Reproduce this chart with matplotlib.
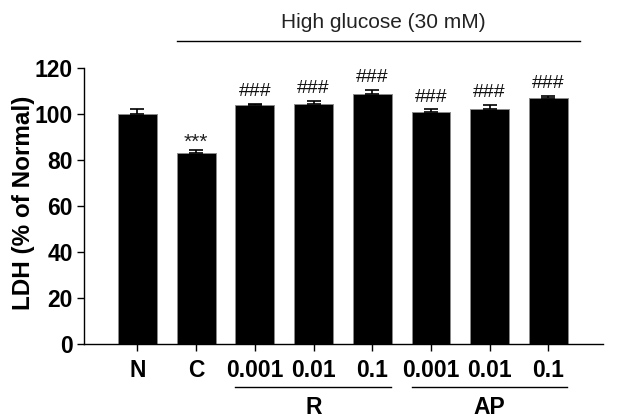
import matplotlib
matplotlib.use("Agg")
import matplotlib.pyplot as plt
import matplotlib.transforms as mtransforms

plt.rcParams['font.family'] = ['Liberation Sans', 'DejaVu Sans']

# data
groups = ["N", "C", "0.001", "0.01", "0.1", "0.001", "0.01", "0.1"]
ldh = [100, 82.9, 104, 104.2, 108.6, 100.7, 102, 106.8]
sem = [2.0, 1.4, 0.4, 1.6, 1.8, 1.3, 1.9, 1.2]
marks = ["", "***", "###", "###", "###", "###", "###", "###"]
y_ticks = [0, 20, 40, 60, 80, 100, 120]

fig = plt.figure(figsize=(6.2, 4.2), dpi=100)
ax = fig.add_axes([84 / 620, 1 - 344 / 420, (603 - 84) / 620, 276 / 420])

x = list(range(len(groups)))
ax.bar(x, ldh, width=0.66, color='black', edgecolor='#8a8a8a', linewidth=0.7, zorder=2)
ax.errorbar(x, ldh, yerr=[[0] * len(sem), sem], fmt='none', ecolor='black',
            elinewidth=1.2, capsize=5, capthick=1.2, zorder=3)

# significance marks
for xi, v, e, m in zip(x, ldh, sem, marks):
    if not m:
        continue
    if m == "***":
        ax.annotate(m, (xi, v + e), textcoords="offset points", xytext=(0, 1.5),
                    ha='center', va='baseline', fontsize=15, color='#222222',
                    annotation_clip=False)
    else:
        ax.annotate(m, (xi, v + e), textcoords="offset points", xytext=(0, 5.5),
                    ha='center', va='baseline', fontsize=14, color='#111111',
                    annotation_clip=False)

ax.set_xlim(-0.91, 7.93)
ax.set_ylim(0, 120)
ax.set_yticks(y_ticks)
ax.set_xticks(x)
ax.set_xticklabels(groups)
for lab in ax.get_xticklabels() + ax.get_yticklabels():
    lab.set_fontweight('bold')
    lab.set_fontsize(16.5)
ax.tick_params(axis='y', length=5, width=1, pad=3)
ax.tick_params(axis='x', length=5, width=1, pad=6)
ax.spines['top'].set_visible(False)
ax.spines['right'].set_visible(False)
ax.spines['left'].set_linewidth(1)
ax.spines['bottom'].set_linewidth(1)
ax.set_ylabel("LDH (% of Normal)", fontsize=17.5, fontweight='bold')
ax.yaxis.set_label_coords(-0.094, 0.51)

# group lines and labels
trans = mtransforms.blended_transform_factory(ax.transData, ax.transAxes)
ax.plot([0.67, 7.54], [1.098, 1.098], color='black', lw=1, transform=trans, clip_on=False)
ax.text(4.18, 1.144, "High glucose (30 mM)", transform=trans, ha='center', va='baseline',
        fontsize=15, color='#222222')
for (a, b), name in zip([(1.67, 4.32), (4.67, 7.32)], ["R", "AP"]):
    ax.plot([a, b], [-0.155, -0.155], color='black', lw=1, transform=trans, clip_on=False)
    ax.text((a + b) / 2, -0.2536, name, transform=trans, ha='center', va='baseline',
            fontsize=16.5, fontweight='bold')

fig.savefig("out.png", dpi=100)
